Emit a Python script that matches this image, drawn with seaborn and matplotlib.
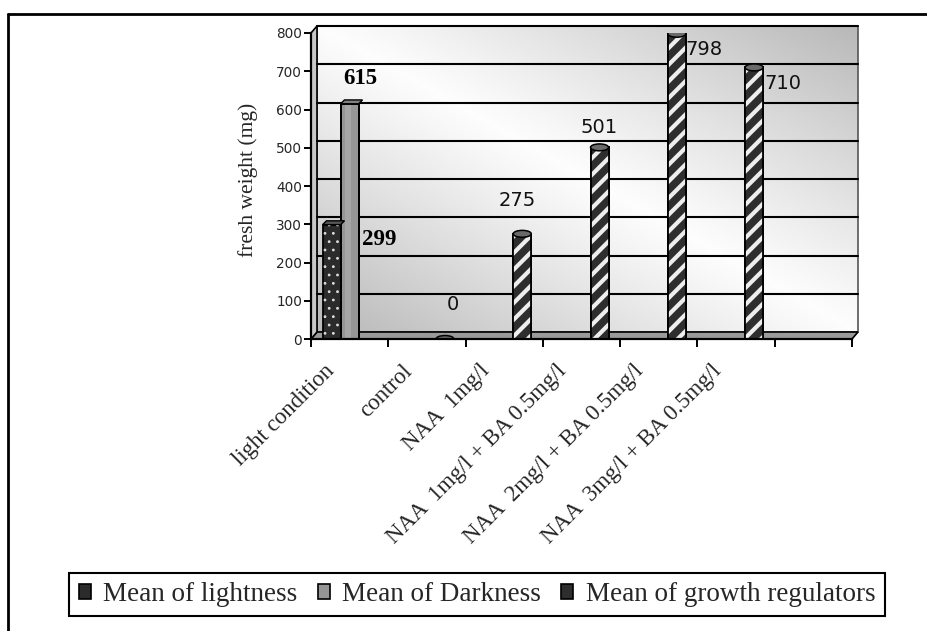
import numpy as np
import pandas as pd
import matplotlib
matplotlib.use("Agg")
import matplotlib.pyplot as plt
import seaborn as sns
from matplotlib.patches import Rectangle, Ellipse, Polygon, Patch
from matplotlib.lines import Line2D
from matplotlib.transforms import ScaledTranslation

# ---------------- data ----------------
categories = ["light condition", "control", "NAA  1mg/l",
              "NAA  1mg/l + BA 0.5mg/l", "NAA  2mg/l + BA 0.5mg/l",
              "NAA  3mg/l + BA 0.5mg/l", " "]
series_names = ["Mean of lightness", "Mean of Darkness", "Mean of growth regulators"]
lightness = [299, None, None, None, None, None, None]
darkness = [615, None, None, None, None, None, None]
growth = [None, 0, 275, 501, 798, 710, None]
y_ticks = [0, 100, 200, 300, 400, 500, 600, 700, 800]

# label offsets (category units, value units) relative to each bar
label_offsets = {
    ("Mean of lightness", 0): (0.62, -40),
    ("Mean of Darkness", 0): (0.14, 65),
    ("Mean of growth regulators", 1): (0.10, 89),
    ("Mean of growth regulators", 2): (-0.07, 88),
    ("Mean of growth regulators", 3): (0.0, 53),
    ("Mean of growth regulators", 4): (0.35, -40),
    ("Mean of growth regulators", 5): (0.37, -43),
}

rows = []
for name, vals in zip(series_names, [lightness, darkness, growth]):
    for c, v in zip(categories, vals):
        if v is not None:
            rows.append({"category": c, "series": name, "value": v})
df = pd.DataFrame(rows)

sns.set_theme(style="white")
plt.rcParams["font.family"] = ["DejaVu Sans"]

W, H, DPI = 928, 631, 100
fig = plt.figure(figsize=(W / DPI, H / DPI), dpi=DPI)
ax_l, ax_r, ax_t, ax_b = 311, 852, 33, 339
ax = fig.add_axes([ax_l / W, 1 - ax_b / H, (ax_r - ax_l) / W, (ax_b - ax_t) / H])

colors = {"Mean of lightness": "#2b2b2b", "Mean of Darkness": "#969696",
          "Mean of growth regulators": "#2e2e2e"}
sns.barplot(data=df, x="category", y="value", hue="series", order=categories,
            hue_order=series_names, palette=colors, width=0.7, ax=ax,
            legend=False, edgecolor="black", linewidth=1.3, saturation=1, zorder=3)

ax.set_xlim(-0.5, len(categories) - 0.5)
ax.set_ylim(0, 800)

# 3D-like back wall with gradient
pw, ph = ax_r - ax_l, ax_b - ax_t
dx, dy = 6 / pw, 7 / ph
gx, gy = np.meshgrid(np.linspace(0, 1, 200), np.linspace(0, 1, 200))
grad = 0.99 - 0.27 * np.abs(gx - gy) ** 1.1
ax.imshow(grad, cmap="gray", vmin=0, vmax=1, extent=[dx, 1 + dx, dy, 1 + dy],
          transform=ax.transAxes, aspect="auto", zorder=0, clip_on=False,
          interpolation="bilinear")
ax.add_patch(Rectangle((dx, dy), 1, 1, transform=ax.transAxes, fill=False,
                       edgecolor="#555555", lw=1.2, zorder=0.5, clip_on=False))
# floor
ax.add_patch(Polygon([(0, 0), (1, 0), (1 + dx, dy), (dx, dy)], closed=True,
                     transform=ax.transAxes, facecolor="#9a9a9a", edgecolor="black",
                     lw=1.2, zorder=1, clip_on=False))
# left side wall
ax.add_patch(Polygon([(0, 0), (dx, dy), (dx, 1 + dy), (0, 1)], closed=True,
                     transform=ax.transAxes, facecolor="#c8c8c8", edgecolor="black",
                     lw=1.2, zorder=1, clip_on=False))
# gridlines on back wall
for t in y_ticks[1:]:
    ax.plot([dx, 1 + dx], [t, t], color="black", lw=1.5, zorder=1.5, clip_on=False,
            transform=ax.get_yaxis_transform() + ScaledTranslation(0, 7 / DPI, fig.dpi_scale_trans))

# bar styling
for name, cont in zip(series_names, ax.containers):
    for i, bar in enumerate(cont):
        h = bar.get_height()
        if np.isnan(h):
            continue
        x0, w = bar.get_x(), bar.get_width()
        if name == "Mean of lightness":
            with plt.rc_context({"hatch.linewidth": 0.8}):
                ov = Rectangle((x0, 0), w, h, fill=False, hatch="..", edgecolor="#dddddd",
                               lw=0, zorder=3.2)
            if hasattr(ov, "set_hatch_linewidth"):
                ov.set_hatch_linewidth(0.8)
            ax.add_patch(ov)
            ax.add_patch(Polygon([(x0, h), (x0 + w, h), (x0 + w + 0.05, h + 10), (x0 + 0.05, h + 10)],
                                 closed=True, facecolor="#555555", edgecolor="black", lw=1, zorder=3.3))
        elif name == "Mean of Darkness":
            ax.add_patch(Rectangle((x0 + w * 0.25, 0), w * 0.35, h, facecolor="#a6a6a6",
                                   lw=0, zorder=3.1))
            ax.add_patch(Rectangle((x0, 0), w, h, fill=False, edgecolor="black", lw=1.3, zorder=3.2))
            ax.add_patch(Polygon([(x0, h), (x0 + w, h), (x0 + w + 0.05, h + 10), (x0 + 0.05, h + 10)],
                                 closed=True, facecolor="#808080", edgecolor="black", lw=1, zorder=3.3))
        else:
            if h > 0:
                with plt.rc_context({"hatch.linewidth": 3.0}):
                    ov = Rectangle((x0, 0), w, h, fill=False, hatch="//", edgecolor="#eeeeee",
                                   lw=0, zorder=3.2)
                if hasattr(ov, "set_hatch_linewidth"):
                    ov.set_hatch_linewidth(3.0)
                ax.add_patch(ov)
                ax.add_patch(Rectangle((x0, 0), w, h, fill=False, edgecolor="black", lw=1.3, zorder=3.3))
            ax.add_patch(Ellipse((x0 + w / 2, h), w, 18, facecolor="#6a6a6a",
                                 edgecolor="black", lw=1.1, zorder=3.4))

# value labels
for name, vals in zip(series_names, [lightness, darkness, growth]):
    off_pos = series_names.index(name) - 1
    for i, v in enumerate(vals):
        if v is None:
            continue
        ox, oy = label_offsets[(name, i)]
        xc = i + off_pos * 0.7 / 3
        if name == "Mean of growth regulators":
            ax.text(xc + ox, v + oy, f"{v}", ha="center", va="center", fontsize=14,
                    family="DejaVu Sans", color="#111111", zorder=5)
        else:
            ax.text(xc + ox, v + oy, f"{v}", ha="center", va="center", fontsize=16.5,
                    family="Liberation Serif", fontweight="bold", color="black", zorder=5)

# axes
for s in ["top", "right"]:
    ax.spines[s].set_visible(False)
for s in ["left", "bottom"]:
    ax.spines[s].set_visible(True)
    ax.spines[s].set_color("black")
    ax.spines[s].set_linewidth(1.6)
    ax.spines[s].set_zorder(4)
ax.set_yticks(y_ticks)
ax.tick_params(axis="y", which="major", direction="out", length=5, width=1.4,
               color="black", labelsize=9.8, pad=1.5, left=True)
ax.set_xticks(range(len(categories)))
ax.set_xticks(np.arange(-0.5, len(categories)), minor=True)
ax.tick_params(axis="x", which="minor", direction="out", length=6, width=1.4,
               color="black", bottom=True)
ax.tick_params(axis="x", which="major", length=0, pad=21)
ax.set_xticklabels(categories, rotation=45, ha="right", va="center",
                   rotation_mode="anchor", family="Liberation Serif", fontsize=16.5)
for lab in ax.get_xticklabels():
    lab.set_transform(lab.get_transform() + ScaledTranslation(-18 / DPI, 0, fig.dpi_scale_trans))
ax.set_xlabel("")
ax.set_ylabel("fresh weight (mg)", family="Liberation Serif", fontsize=15.5)
ax.yaxis.label.set_va("center")
ax.yaxis.set_label_coords((248 - ax_l) / pw, (ax_b - 180) / ph)
ax.grid(False)

# legend
handles = [
    Patch(facecolor="#2b2b2b", edgecolor="black", lw=1.2),
    Patch(facecolor="#969696", edgecolor="black", lw=1.2),
    Patch(facecolor="#2e2e2e", edgecolor="black", lw=1.2),
]
leg = fig.legend(handles, series_names, loc="center", ncol=3,
                 bbox_to_anchor=((62 + 892) / 2 / W, 1 - 594.5 / H),
                 prop={"family": "Liberation Serif", "size": 19.5},
                 frameon=True, fancybox=False, edgecolor="black", framealpha=1,
                 handlelength=0.45, handleheight=0.45, handletextpad=0.45,
                 columnspacing=0.75, borderpad=0.35, borderaxespad=0)
leg.get_frame().set_linewidth(1.5)

# outer frame (left and top edges visible)
fig.add_artist(Line2D([8 / W, 8 / W], [0, 1 - 14 / H], color="black", lw=2))
fig.add_artist(Line2D([8 / W, 1], [1 - 14 / H, 1 - 14 / H], color="black", lw=2))

fig.savefig("out.png", dpi=DPI)
